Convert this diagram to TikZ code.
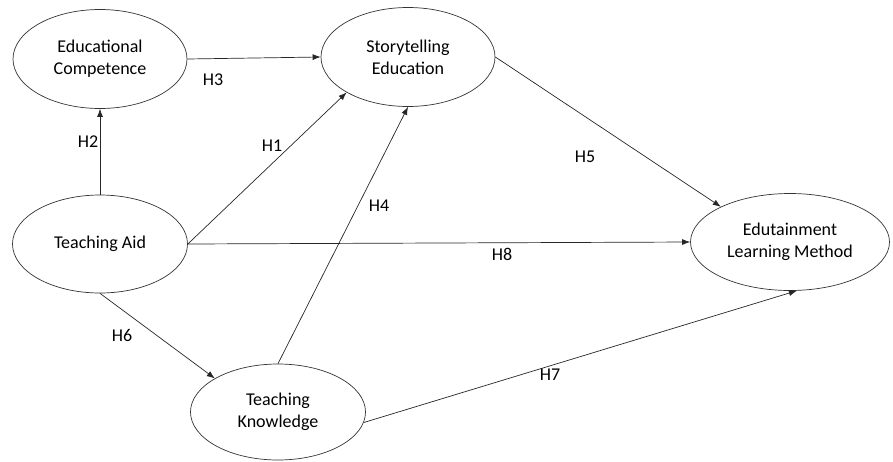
\documentclass[tikz,border=0pt]{standalone}
\usepackage{fontspec}
\setmainfont{Carlito}
\usetikzlibrary{arrows.meta,shapes.geometric}

\begin{document}
\begin{tikzpicture}[x=1pt,y=-1pt,line width=0.7pt,
  construct/.style={ellipse,draw=black!80,inner sep=0pt,align=center,
    font=\fontsize{18}{22}\selectfont},
  hyp/.style={-{Latex[length=8pt,width=6pt]},draw=black!85},
  lbl/.style={inner sep=0pt,font=\fontsize{18}{20}\selectfont}]

\useasboundingbox (0,0) rectangle (893,461);

\node[construct,minimum width=174,minimum height=99] (ec) at (100,59) {Educational\\Competence};
\node[construct,minimum width=174,minimum height=99] (se) at (408,57) {Storytelling\\Education};
\node[construct,minimum width=175,minimum height=98] (ta) at (100,244) {Teaching Aid};
\node[construct,minimum width=175,minimum height=96] (tk) at (278,412) {Teaching\\Knowledge};
\node[construct,minimum width=199,minimum height=97] (elm) at (790,242) {Edutainment\\Learning Method};

\draw[hyp] (ta.north) -- (ec.south);
\draw[hyp] (ec.east) -- (se.west);
\draw[hyp] (ta.east) -- (se.210);
\draw[hyp] (tk.north) -- (se.south);
\draw[hyp] (ta.east) -- (elm.west);
\draw[hyp] (se.east) -- (elm.153);
\draw[hyp] (ta.south) -- (tk.152);
\draw[hyp] (tk.-7) -- (elm.-82);

\node[lbl] (h1) at (272,146) {H1};
\node[lbl] (h2) at (88,142) {H2};
\node[lbl] (h3) at (213,80) {H3};
\node[lbl] (h4) at (379,206) {H4};
\node[lbl] (h5) at (585,157) {H5};
\node[lbl] (h6) at (122,335) {H6};
\node[lbl] (h7) at (550,375) {H7};
\node[lbl] (h8) at (502,254) {H8};

\end{tikzpicture}
\end{document}
